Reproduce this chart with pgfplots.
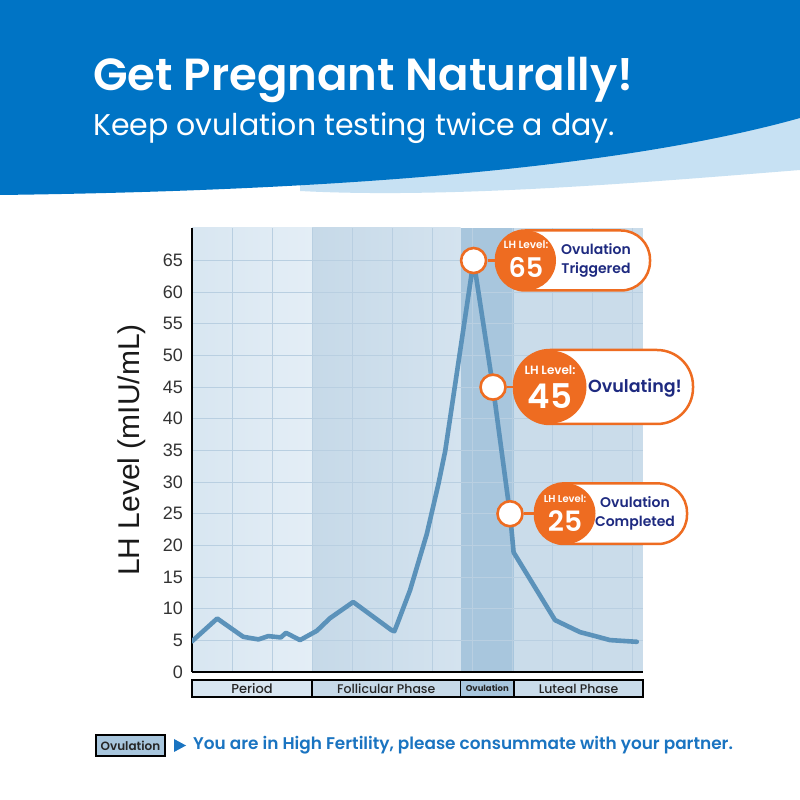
\documentclass[border=0pt]{standalone}
\usepackage{fontspec}
\setmainfont{Poppins}
\newfontfamily\popsemi{Poppins SemiBold}
\newfontfamily\popmed{Poppins Medium}
\newfontfamily\lib{Liberation Sans}
\usepackage{pgfplots}
\pgfplotsset{compat=1.18}

\definecolor{dkblue}{HTML}{0074C5}
\definecolor{ltblue}{HTML}{C7E1F3}
\definecolor{orangec}{HTML}{EE6C21}
\definecolor{navy}{HTML}{1E2A80}
\definecolor{linec}{HTML}{5B92BA}
\definecolor{gridc}{HTML}{B9CFE1}
\definecolor{textblue}{HTML}{1A74C1}
\definecolor{perA}{HTML}{D8E6F1}
\definecolor{perB}{HTML}{E4EEF6}
\definecolor{folA}{HTML}{C6D9E8}
\definecolor{folB}{HTML}{D4E3EF}
\definecolor{ovuc}{HTML}{A8C6DD}
\definecolor{lutc}{HTML}{CADCEA}

% LH level over the cycle (x: grid columns, y: mIU/mL)
\pgfplotstableread{
x      y
0.00   4.85
0.63   8.45
1.28   5.56
1.66   5.15
1.91   5.67
2.22   5.46
2.35   6.19
2.70   5.04
3.12   6.50
3.45   8.50
4.03   11.06
4.99   6.60
5.06   6.45
5.12   7.40
5.45   12.90
5.87   21.80
6.16   29.70
6.33   34.90
7.04   65.00
7.525  45.00
7.95   25.00
8.04   18.90
9.075  8.20
9.70   6.30
10.08  5.67
10.45  5.04
11.12  4.77
}\lhdata

\pgfplotstableread{
x      y
7.04   65
7.525  45
7.95   25
}\lhmarks

\begin{document}
\begin{tikzpicture}[x=1pt,y=1pt]
% page
\fill[white] (0,0) rectangle (800,800);

% header band
\fill[ltblue] (300,609) .. controls (450,601) and (650,618) .. (800,630) -- (800,720) -- (300,720) -- cycle;
\fill[dkblue] (0,800) -- (800,800) -- (800,682) .. controls (650,640) and (400,610) .. (0,605) -- cycle;
\node[anchor=base west, inner sep=0pt, text=white, font=\popsemi\fontsize{45}{50}\selectfont] at (93,709) {Get Pregnant Naturally!};
\node[anchor=base west, inner sep=0pt, text=white, font=\fontsize{30}{34}\selectfont] at (93,664) {Keep ovulation testing twice a day.};

% phase shading behind the plot
\shade[left color=perA, right color=perB] (192,128) rectangle (312,572);
\shade[left color=folA, right color=folB] (312,128) rectangle (460.7,572);
\fill[ovuc] (460.7,128) rectangle (514,572);
\fill[lutc] (514,128) rectangle (643,572);

\begin{axis}[
  at={(192pt,128pt)}, anchor=south west,
  scale only axis, width=451pt, height=444pt,
  xmin=0, xmax=11.275, ymin=0, ymax=70.14,
  axis x line*=bottom, axis y line*=left,
  axis line style={black, line width=1.6pt, -},
  xtick={1,...,11}, xticklabels={},
  ytick={0,5,...,65},
  grid=major, major grid style={color=gridc, line width=1pt},
  major tick length=0pt,
  /pgf/number format/assume math mode=true,
  yticklabel style={font=\lib\fontsize{18}{18}\selectfont, text=black!80, anchor=east, inner sep=0pt, xshift=-9pt},
]
\addplot[color=linec, line width=4.6pt, line join=round, line cap=round] table[x=x,y=y] {\lhdata};
\addplot[only marks, mark=*, mark size=12.5pt, mark options={fill=white, draw=orangec, line width=2.6pt}] table[x=x,y=y] {\lhmarks};
\end{axis}

% y axis title
\node[rotate=90, font=\lib\fontsize{30}{32}\selectfont, text=black!90] at (132,350) {LH Level (mIU/mL)};

% phase bar
\begin{scope}[draw=black, line width=1.4pt]
\filldraw[fill=perA] (192,103) rectangle (312,120);
\filldraw[fill=folA] (312,103) rectangle (460.7,120);
\filldraw[fill=ovuc] (460.7,103) rectangle (514,120);
\filldraw[fill=lutc] (514,103) rectangle (643,120);
\end{scope}
\node[font=\popmed\fontsize{13}{13}\selectfont, text=black!85] at (252,111.5) {Period};
\node[font=\popmed\fontsize{12.5}{12.5}\selectfont, text=black!85] at (386.3,111.5) {Follicular Phase};
\node[font=\bfseries\fontsize{8.5}{9}\selectfont, text=black!85] at (487.3,111.5) {Ovulation};
\node[font=\popmed\fontsize{12.5}{12.5}\selectfont, text=black!85] at (578.5,111.5) {Luteal Phase};

% callout: 65
\draw[orangec, line width=2.5pt] (488,539.5) -- (500,539.5);
\draw[orangec, line width=2.5pt, fill=white, rounded corners=29pt] (496,509.5) rectangle (650,569.5);
\fill[orangec] (526,539.5) circle (30);
\node[text=white, font=\popsemi\fontsize{10.5}{11}\selectfont] at (526,555) {LH Level:};
\node[text=white, font=\popsemi\fontsize{27}{28}\selectfont] at (526,533) {65};
\node[text=navy, font=\popsemi\fontsize{14}{19}\selectfont, align=center] at (596,539.5) {Ovulation\\Triggered};

% callout: 45
\draw[orangec, line width=2.5pt] (507,413) -- (516,413);
\draw[orangec, line width=2.5pt, fill=white, rounded corners=36pt] (514,376) rectangle (693,450);
\fill[orangec] (550,413) circle (36.5);
\node[text=white, font=\popsemi\fontsize{12}{12}\selectfont] at (550,430) {LH Level:};
\node[text=white, font=\popsemi\fontsize{34}{34}\selectfont] at (550,404) {45};
\node[text=navy, font=\popsemi\fontsize{17.5}{20}\selectfont] at (635,412) {Ovulating!};

% callout: 25
\draw[orangec, line width=2.5pt] (524,286.3) -- (537,286.3);
\draw[orangec, line width=2.5pt, fill=white, rounded corners=29pt] (535,256) rectangle (687,316.6);
\fill[orangec] (565,286.3) circle (30.5);
\node[text=white, font=\popsemi\fontsize{10}{10}\selectfont] at (565,301) {LH Level:};
\node[text=white, font=\popsemi\fontsize{28}{28}\selectfont] at (565,279) {25};
\node[text=navy, font=\popsemi\fontsize{14}{19}\selectfont, align=center] at (635,286.3) {Ovulation\\Completed};

% footer note
\filldraw[fill=ovuc, draw=black, line width=1.2pt] (96,44) rectangle (165,65);
\node[font=\popsemi\fontsize{12}{12}\selectfont, text=black!85] at (130.5,54.5) {Ovulation};
\fill[textblue] (174,61) -- (186,54.5) -- (174,48) -- cycle;
\node[anchor=west, inner sep=0pt, text=textblue, font=\popsemi\fontsize{16.9}{18}\selectfont] at (193,55) {You are in High Fertility, please consummate with your partner.};
\end{tikzpicture}
\end{document}
